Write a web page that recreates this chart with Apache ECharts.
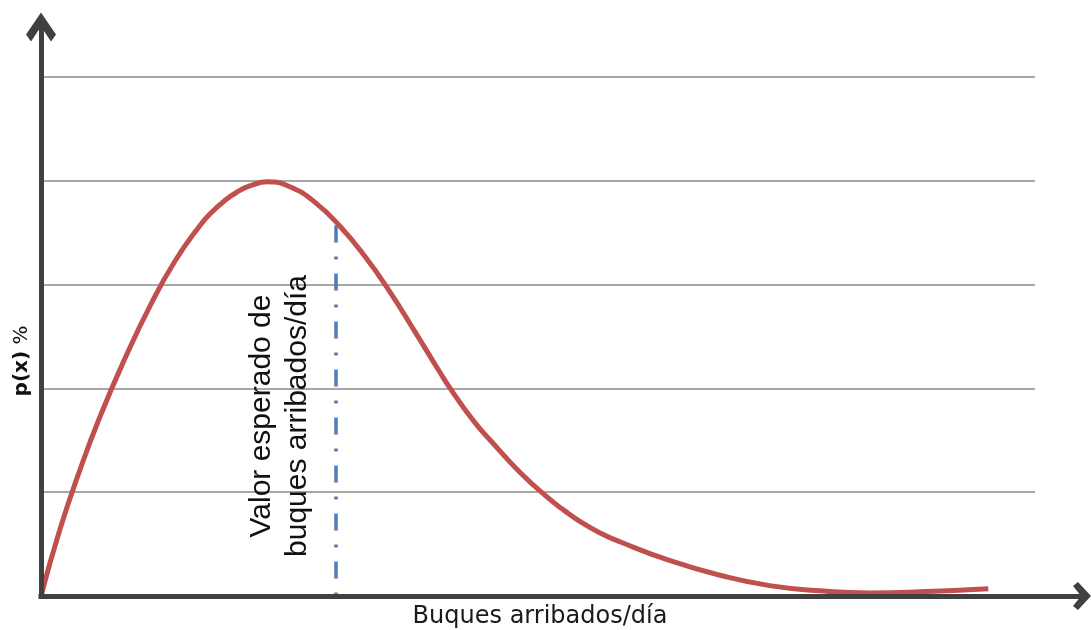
<!DOCTYPE html>
<html>
<head>
<meta charset="utf-8">
<title>p(x) - Buques arribados/día</title>
<script src="https://cdn.jsdelivr.net/npm/echarts@6/dist/echarts.min.js"></script>
<style>
  html, body { margin: 0; padding: 0; background: #fff; }
  #chart { width: 1091px; height: 630px; }
</style>
</head>
<body>
<div id="chart"></div>
<script>
// curve (x in arbitrary units, p(x) in gridline steps)
const xVals = [0, 0.19, 0.39, 0.59, 0.85, 1.10, 1.35, 1.60, 1.72, 1.85, 1.97, 2.10, 2.28, 2.51, 2.76, 3.01,
  3.26, 3.51, 3.76, 4.01, 4.13, 4.27, 4.40, 4.52, 4.82, 5.12, 5.27, 5.42, 5.62, 5.83, 6.33, 6.83,
  7.33, 7.84, 8.34, 8.84, 9.53]
const pVals = [0, 0.64, 1.21, 1.72, 2.30, 2.80, 3.23, 3.57, 3.70, 3.81, 3.89, 3.95, 3.99, 3.94, 3.79, 3.56,
  3.27, 2.93, 2.55, 2.16, 1.98, 1.79, 1.63, 1.50, 1.19, 0.93, 0.82, 0.72, 0.61, 0.52, 0.34, 0.20,
  0.10, 0.05, 0.03, 0.04, 0.07]
const gridTicks = [0, 1, 2, 3, 4, 5]

// expected value marker
const expectedX = 2.97
const expectedTop = 3.57

const xTitle = 'Buques arribados/día'
const note = 'Valor esperado de\nbuques arribados/día'

const axisColor = '#404040'
const arrowY = 'path://M15,0 L30,22 L25,29 L15,14 L5,29 L0,22 Z'
const arrowX = 'path://M14,0 L28,13 L24,18 L14,10 L4,18 L0,13 Z'

const chart = echarts.init(document.getElementById('chart'))

chart.setOption({
  animation: false,
  backgroundColor: '#fff',
  grid: [
    // axes with arrows
    { left: 41, right: 9, top: 27, bottom: 34, outerBoundsMode: 'none' },
    // plot area with gridlines
    { left: 41, right: 56, top: 77, bottom: 34, outerBoundsMode: 'none' }
  ],
  xAxis: [{
    gridIndex: 0,
    type: 'value',
    min: 0,
    max: 1,
    z: 10,
    axisLine: {
      show: true,
      symbol: ['none', arrowX],
      symbolSize: [28, 18],
      lineStyle: { color: axisColor, width: 5, cap: 'square' }
    },
    axisTick: { show: false },
    axisLabel: { show: false },
    splitLine: { show: false }
  }, {
    gridIndex: 1,
    type: 'value',
    min: 0,
    max: 10,
    show: false
  }],
  yAxis: [{
    gridIndex: 0,
    type: 'value',
    min: 0,
    max: 1,
    z: 10,
    axisLine: {
      show: true,
      symbol: ['none', arrowY],
      symbolSize: [30, 29],
      lineStyle: { color: axisColor, width: 5, cap: 'square' }
    },
    axisTick: { show: false },
    axisLabel: { show: false },
    splitLine: { show: false }
  }, {
    gridIndex: 1,
    type: 'value',
    min: gridTicks[0],
    max: gridTicks[gridTicks.length - 1],
    interval: 1,
    axisLine: { show: false },
    axisTick: { show: false },
    axisLabel: { show: false },
    splitLine: { show: true, lineStyle: { color: '#8a8a8a', width: 1.5 } }
  }],
  series: [{
    type: 'line',
    xAxisIndex: 1,
    yAxisIndex: 1,
    data: xVals.map((x, i) => [x, pVals[i]]),
    smooth: 0.5,
    symbol: 'none',
    z: 5,
    lineStyle: { color: '#C0504D', width: 5 },
    markLine: {
      silent: true,
      symbol: 'none',
      label: { show: false },
      lineStyle: { color: '#4A7EBB', width: 3.5, type: [17, 14, 3, 14] },
      data: [[{ coord: [expectedX, expectedTop] }, { coord: [expectedX, 0] }]]
    }
  }],
  graphic: [{
    type: 'text',
    x: 280,
    y: 416,
    rotation: Math.PI / 2,
    z: 20,
    style: {
      text: note,
      fill: '#111',
      font: '30px "Liberation Sans", Arial, sans-serif',
      lineHeight: 36,
      align: 'center',
      verticalAlign: 'middle',
      textAlign: 'center',
      textVerticalAlign: 'middle'
    }
  }, {
    type: 'text',
    x: 22,
    y: 361,
    rotation: Math.PI / 2,
    z: 20,
    style: {
      text: '{b|p(x)} %',
      fill: '#111',
      font: '20px "DejaVu Sans", sans-serif',
      align: 'center',
      verticalAlign: 'middle',
      textAlign: 'center',
      textVerticalAlign: 'middle',
      rich: {
        b: { fontWeight: 'bold', fontSize: 20, fontFamily: 'DejaVu Sans', fill: '#111' }
      }
    }
  }, {
    type: 'text',
    x: 540,
    y: 617,
    z: 20,
    style: {
      text: xTitle,
      fill: '#1a1a1a',
      font: '24px "DejaVu Sans", sans-serif',
      align: 'center',
      verticalAlign: 'middle',
      textAlign: 'center',
      textVerticalAlign: 'middle'
    }
  }]
})
</script>
</body>
</html>
